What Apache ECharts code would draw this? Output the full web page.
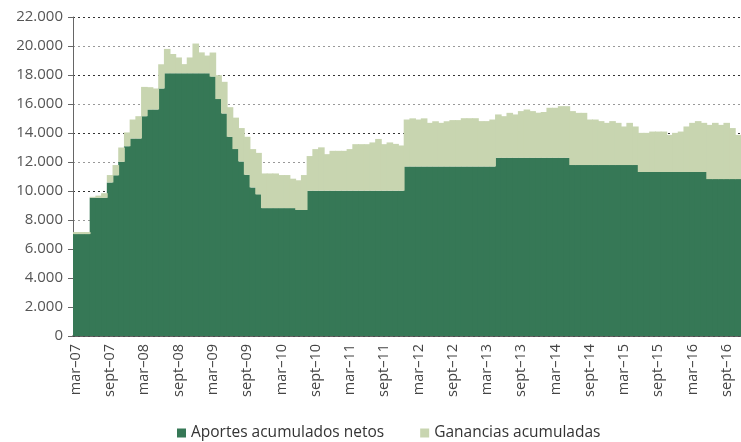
<!DOCTYPE html>
<html>
<head>
<meta charset="utf-8">
<script src="https://cdn.jsdelivr.net/npm/echarts@6/dist/echarts.min.js"></script>
<style>
  html, body { margin: 0; padding: 0; background: #fff; }
  #chart { width: 741px; height: 442px; }
</style>
</head>
<body>
<div id="chart"></div>
<script>
// meses (mar-07 .. nov-16)
var mesesNombre = ['ene', 'feb', 'mar', 'abr', 'may', 'jun', 'jul', 'ago', 'sept', 'oct', 'nov', 'dic'];
var anioInicio = 2007, mesInicio = 2, totalMeses = 117;

var categorias = [];
for (var k = 0; k < totalMeses; k++) {
  var m = (mesInicio + k) % 12;
  var a = anioInicio + Math.floor((mesInicio + k) / 12);
  categorias.push(mesesNombre[m] + '\u2013' + String(a).slice(2));
}

// Aportes acumulados netos
var aportes = [
  7030, 7030, 7030, 9530, 9530, 9530, 10590, 11080, 12010, 13090,
  13620, 13620, 15160, 15620, 15620, 17070, 18120, 18120, 18120, 18120,
  18120, 18120, 18120, 18120, 17890, 16340, 15350, 13740, 12890, 12040,
  11120, 10250, 9770, 8820, 8820, 8820, 8820, 8820, 8820, 8690,
  8690, 10020, 10020, 10020, 10020, 10020, 10020, 10020, 10020, 10020,
  10020, 10020, 10020, 10020, 10020, 10020, 10020, 10020, 11690, 11690,
  11690, 11690, 11690, 11690, 11690, 11690, 11690, 11690, 11690, 11690,
  11690, 11690, 11690, 11690, 12290, 12290, 12290, 12290, 12290, 12290,
  12290, 12290, 12290, 12290, 12290, 12290, 12290, 11790, 11790, 11790,
  11790, 11790, 11790, 11790, 11790, 11790, 11790, 11790, 11790, 11310,
  11310, 11310, 11310, 11310, 11310, 11310, 11310, 11310, 11310, 11310,
  11310, 10820, 10820, 10820, 10820, 10820, 10820
];

// Ganancias acumuladas
var ganancias = [
  140, 140, 140, 70, 150, 320, 510, 710, 990, 950,
  1310, 1540, 2020, 1540, 1450, 1670, 1680, 1330, 1090, 630,
  1090, 2050, 1440, 1220, 1660, 1650, 2180, 2040, 2170, 2300,
  2620, 2640, 2860, 2390, 2390, 2390, 2280, 2280, 2030, 2050,
  2410, 2390, 2870, 2990, 2520, 2750, 2750, 2750, 2870, 3210,
  3210, 3210, 3330, 3570, 3210, 3330, 3230, 3120, 3240, 3320,
  3240, 3320, 3010, 3120, 3010, 3120, 3200, 3200, 3330, 3330,
  3330, 3130, 3130, 3240, 2990, 2870, 3100, 2990, 3220, 3330,
  3220, 3110, 3160, 3450, 3450, 3560, 3560, 3720, 3600, 3600,
  3140, 3140, 3030, 2910, 3030, 2910, 2660, 2910, 2660, 2700,
  2700, 2790, 2790, 2790, 2560, 2700, 2790, 3140, 3390, 3510,
  3390, 3740, 3880, 3740, 3880, 3520, 3050
];

var chart = echarts.init(document.getElementById('chart'));

function miles(v) {
  return String(v).replace(/\B(?=(\d{3})+(?!\d))/g, '.');
}

var verdeOscuro = '#367856', verdeClaro = '#c8d5b0';

var option = {
  animation: false,
  textStyle: { fontFamily: 'Open Sans' },
  grid: { left: 73, right: -1, top: 17, bottom: 106 },
  legend: {
    bottom: -4,
    left: 172,
    icon: 'rect',
    itemWidth: 9,
    itemHeight: 9,
    itemGap: 36,
    textStyle: { color: '#333', fontSize: 15.5, fontFamily: 'Open Sans' },
    data: ['Aportes acumulados netos', 'Ganancias acumuladas']
  },
  xAxis: {
    type: 'category',
    data: categorias,
    boundaryGap: true,
    axisLine: { lineStyle: { color: '#333', width: 1.5 } },
    axisTick: { interval: 5, length: 5, lineStyle: { color: '#333' } },
    axisLabel: {
      interval: 5,
      rotate: 90,
      color: '#444',
      fontSize: 14.5,
      margin: 8
    },
    splitLine: { show: false }
  },
  yAxis: {
    type: 'value',
    min: 0,
    max: 22000,
    interval: 2000,
    axisLine: { show: true, lineStyle: { color: '#666' } },
    axisTick: { show: true, length: 5, lineStyle: { color: '#666' } },
    axisLabel: {
      color: '#555',
      fontSize: 15,
      margin: 10,
      formatter: miles
    },
    splitLine: {
      lineStyle: { color: ['#999', '#333'], type: [2, 3], width: 1 }
    }
  },
  series: [
    {
      name: 'Aportes acumulados netos',
      type: 'bar',
      stack: 'total',
      barWidth: 6.6,
      itemStyle: { color: verdeOscuro },
      data: aportes
    },
    {
      name: 'Ganancias acumuladas',
      type: 'bar',
      stack: 'total',
      barWidth: 6.6,
      itemStyle: { color: verdeClaro },
      data: ganancias
    }
  ]
};

chart.setOption(option);
</script>
</body>
</html>
